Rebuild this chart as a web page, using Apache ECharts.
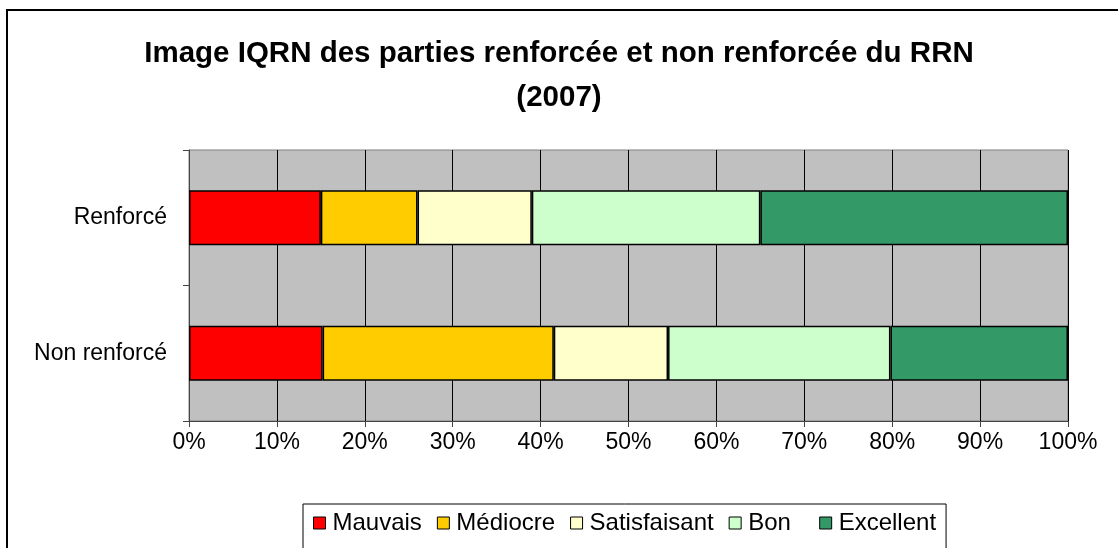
<!DOCTYPE html>
<html>
<head>
<meta charset="utf-8">
<script src="https://cdn.jsdelivr.net/npm/echarts@6/dist/echarts.min.js"></script>
<style>
html,body{margin:0;padding:0;background:#fff;}
#c{width:1118px;height:548px;}
</style>
</head>
<body>
<div id="c"></div>
<script>
const titleText = 'Image IQRN des parties renforcée et non renforcée du RRN\n(2007)';
const categories = ['Non renforcé', 'Renforcé'];
const seriesNames = ['Mauvais', 'Médiocre', 'Satisfaisant', 'Bon', 'Excellent'];
const mauvais = [15.2, 15.0];
const mediocre = [26.3, 11.0];
const satisfaisant = [13.0, 13.0];
const bon = [25.3, 26.0];
const excellent = [20.2, 35.0];
const colors = ['#FF0000', '#FFCC00', '#FFFFCC', '#CCFFCC', '#339966'];
const values = [mauvais, mediocre, satisfaisant, bon, excellent];

const FONT = '"Liberation Sans", Arial, sans-serif';
const chart = echarts.init(document.getElementById('c'), null, {renderer: 'canvas'});
chart.setOption({
  animation: false,
  backgroundColor: '#fff',
  textStyle: {fontFamily: FONT, color: '#000'},
  graphic: [{
    type: 'rect', shape: {x: 7, y: 10, width: 1130, height: 560},
    style: {fill: 'none', stroke: '#000', lineWidth: 2}, silent: true, z: -1
  }],
  title: {
    text: titleText, left: 'center', top: 27,
    textStyle: {fontFamily: FONT, fontSize: 29.5, fontWeight: 'bold', color: '#000', lineHeight: 44}
  },
  legend: {
    left: 303, top: 504,
    data: seriesNames,
    formatter: function (n) { return n === 'Bon' ? 'Bon  ' : n; },
    icon: 'rect', itemWidth: 12, itemHeight: 12, itemGap: 15,
    itemStyle: {borderColor: '#000', borderWidth: 1},
    textStyle: {fontFamily: FONT, fontSize: 24, color: '#000', padding: [0, 0, 0, 2]},
    borderColor: '#000', borderWidth: 1, padding: [7, 10, 40, 10],
    backgroundColor: '#fff'
  },
  grid: {
    left: 189, right: 50, top: 150, bottom: 127,
    show: true, backgroundColor: '#C0C0C0', borderColor: '#808080', borderWidth: 1
  },
  xAxis: {
    type: 'value', min: 0, max: 100, interval: 10,
    axisLabel: {formatter: '{value}%', fontFamily: FONT, fontSize: 23, color: '#000', margin: 10},
    axisLine: {show: true, lineStyle: {color: '#444', width: 1}},
    axisTick: {show: true, length: 6, lineStyle: {color: '#444'}},
    splitLine: {show: true, lineStyle: {color: '#000', width: 1}}
  },
  yAxis: {
    type: 'category', data: categories,
    axisLabel: {fontFamily: FONT, fontSize: 23, color: '#000', margin: 22},
    axisLine: {show: true, lineStyle: {color: '#444', width: 1}},
    axisTick: {show: true, length: 6, lineStyle: {color: '#444'}},
    splitLine: {show: false}
  },
  series: seriesNames.map((n, i) => ({
    name: n, type: 'bar', stack: 'total', barWidth: '40.5%',
    data: values[i],
    itemStyle: {color: colors[i], borderColor: '#000', borderWidth: 1.5}
  }))
});
</script>
</body>
</html>
